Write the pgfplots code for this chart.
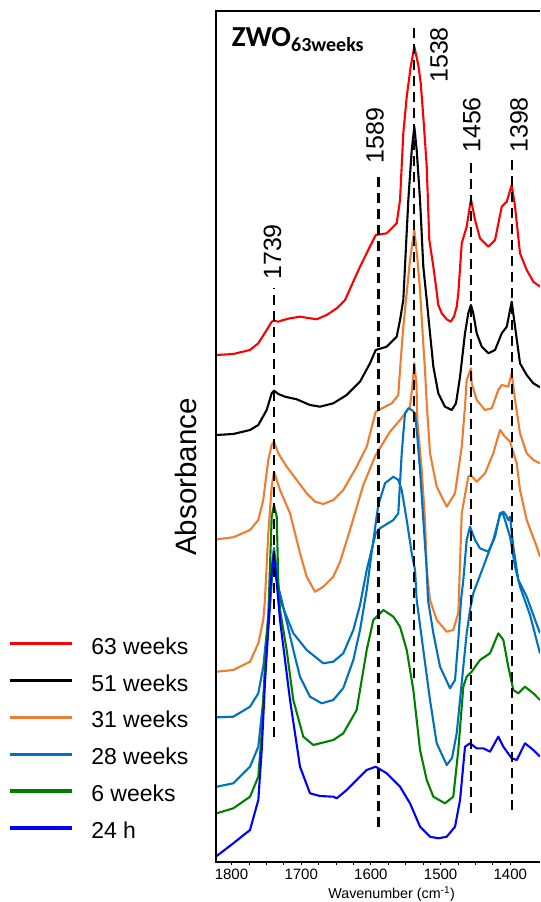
\documentclass[border=0pt]{standalone}
\usepackage{fontspec}
\setmainfont{Liberation Sans}
\newfontfamily\calibri{Carlito}
\usepackage{pgfplots}
\pgfplotsset{compat=1.18}
\definecolor{cRed}{RGB}{255,0,0}
\definecolor{cOrange}{RGB}{237,125,49}
\definecolor{cLBlue}{RGB}{0,112,192}
\definecolor{cGreen}{RGB}{0,128,0}
\definecolor{cBlue}{RGB}{0,0,255}
\begin{document}
\begin{tikzpicture}
\begin{axis}[
  scale only axis, width=324pt, height=851pt,
  xmin=1357.4, xmax=1822.2, x dir=reverse,
  ymin=0, ymax=851,
  axis line style={draw=none},
  ytick=\empty,
  xtick={1400,1500,1600,1700,1800},
  minor x tick num=3,
  xtick pos=left,
  tick align=outside, major tick length=3pt, minor tick length=3pt,
  tick style={black, line width=0.8pt},
  xticklabel style={font=\fontsize{15}{15}\selectfont},
  /pgf/number format/assume math mode=true,
  /pgf/number format/1000 sep={},
  xlabel={Wavenumber (cm\textsuperscript{-1})},
  xlabel style={at={(axis description cs:0.542,-0.0427)}, anchor=base, font=\fontsize{14.3}{14.3}\selectfont},
  ylabel={Absorbance},
  ylabel style={at={(axis description cs:-0.0596,0.4524)}, anchor=base, font=\fontsize{29.5}{30}\selectfont},
  clip mode=individual,
  spec/.style={line width=2.1pt, line join=round, mark=none},
  vline/.style={black, line width=2.2pt, dash pattern=on 10pt off 6pt, forget plot},
  legend cell align=left,
  legend image code/.code={\draw[#1, line width=3.3pt] (0pt,3pt) -- (62pt,3pt);},
  legend style={at={(axis description cs:-0.642,0.2638)}, anchor=north west, draw=none, fill=none,
    inner sep=0pt, outer sep=0pt, font=\fontsize{23}{23}\selectfont, row sep=18.7pt, column sep=18pt,
    nodes={inner sep=0pt}},
]
% 63 weeks
\addplot[spec, cRed] coordinates {(1821.2,507) (1797.4,508) (1773.4,512) (1761.5,518.7) (1749.5,532) (1742.3,540.3) (1739,541.3) (1732.8,540.3) (1725.7,542) (1716,543.7) (1701.7,545.3) (1677.7,542.7) (1663.4,547) (1649,553.7) (1637.1,562) (1615.6,595.3) (1593.1,627) (1577.3,628.7) (1563,638.7) (1558.2,662) (1553.5,728.7) (1548.6,765.3) (1542.9,795.3) (1537.7,815.3) (1532,797) (1528.5,778.7) (1524.8,745.3) (1519.9,695.3) (1516.2,622) (1510.4,595.3) (1506.6,575.3) (1503.3,557) (1498.4,548.7) (1491.2,542.7) (1485.5,540.3) (1480.8,545.3) (1476.9,555.3) (1474.6,568.7) (1469.7,618.7) (1462.6,635.3) (1456.5,663) (1450.6,642) (1443.5,623.7) (1431.5,615.3) (1421.9,622) (1412.3,655.3) (1405.1,660.3) (1398,677) (1393.2,655.3) (1386.1,608.7) (1376.5,592) (1367,580.3) (1357.4,575.3)};
\addlegendentry{63 weeks}
% 51 weeks
\addplot[spec, black] coordinates {(1821.2,427) (1797.4,428) (1773.4,432) (1761.5,437) (1749.5,452) (1742.3,468.7) (1739,471.3) (1732.8,468) (1723.2,465.3) (1706.4,462.7) (1687.4,457) (1673,455.3) (1653.9,458.7) (1634.7,467) (1615.6,480.3) (1601.3,498.7) (1593.1,512) (1577.3,515.3) (1563,525.3) (1558.2,542) (1553.5,562) (1551.1,595.3) (1546.3,662) (1541.4,712) (1537.7,735.3) (1534.3,712) (1529.5,662) (1524.8,595.3) (1519.9,562) (1515.2,528.7) (1510.4,495.3) (1503.3,468.7) (1493.7,455.3) (1484,452) (1477.9,458.7) (1472.1,485.3) (1465,528.7) (1460.3,548.7) (1456.5,557) (1453.1,548.7) (1448.2,528.7) (1441,515.3) (1431.5,508.7) (1421.9,512) (1412.3,528.7) (1405.1,535.3) (1398,560.3) (1393.2,535.3) (1386.1,498.7) (1376.5,487) (1367,478.7) (1357.4,474.7)};
\addlegendentry{51 weeks}
% 31 weeks (upper)
\addplot[spec, cOrange] coordinates {(1821.2,322.7) (1797.4,324.7) (1773.4,332) (1761.5,342) (1754.4,362) (1747.2,402) (1742.3,417) (1739,420.3) (1732.8,408.7) (1720.8,395.3) (1706.4,382) (1692.1,368.7) (1680.2,360.3) (1668.3,358) (1653.9,362) (1639.6,372) (1620.4,395.3) (1606,415.3) (1593.1,450.3) (1570.1,458.7) (1560.7,467) (1558.2,492) (1553.9,532) (1548.2,572) (1543.9,602) (1537.7,632) (1533.8,607) (1529.5,572) (1525.2,522) (1522.4,492) (1519.9,458.7) (1515.2,408.7) (1505.6,375.3) (1496.1,362) (1491.2,355.3) (1479.3,368.7) (1469.7,415.3) (1465,455.3) (1462.6,482) (1456.5,493.7) (1455.4,478.7) (1448.2,462) (1436.3,452) (1426.7,453.7) (1417.2,472) (1412.3,477) (1402.9,475.3) (1398,489) (1393.2,462) (1386.1,428.7) (1376.5,408.7) (1367,402) (1357.4,398.7)};
\addlegendentry{31 weeks}
% 31 weeks (lower)
\addplot[spec, cOrange, forget plot] coordinates {(1821.2,190.3) (1797.4,192) (1773.4,200.3) (1761.5,218.7) (1754.4,242) (1752,262) (1747.2,328.7) (1742.3,375.3) (1739,390.3) (1730.4,372) (1716,348.7) (1701.7,308.7) (1692.1,285.3) (1680.2,270.3) (1668.3,275.3) (1653.9,285.3) (1644.3,300) (1630,332) (1610.9,377) (1593.1,407) (1572.6,430.3) (1558.2,442) (1543.9,455.3) (1540.3,477) (1537.7,499) (1534.6,477) (1533.4,442) (1527.1,392) (1522.4,342) (1519.9,292) (1515.2,262) (1505.6,242) (1491.2,230.3) (1481.8,232) (1474.6,249) (1469.7,348.7) (1460.3,385.3) (1456.8,387) (1448.2,380.3) (1436.3,388.7) (1424.4,408.7) (1414.8,432) (1407.6,425.3) (1400.4,420.3) (1390.8,398.7) (1386.1,372) (1376.5,342) (1362.1,315.3) (1357.4,305.3)};
% 28 weeks (upper)
\addplot[spec, cLBlue] coordinates {(1821.2,144.7) (1797.4,145.3) (1773.4,155.3) (1761.5,168.7) (1754.4,195.3) (1749.5,228.7) (1744.7,262) (1741.9,297) (1739,314) (1736.1,297) (1730.4,262) (1711.3,228.7) (1692.1,212) (1668.3,198.7) (1653.9,200.3) (1639.6,208.7) (1625.2,232) (1615.6,257) (1606,292) (1593.1,328.7) (1586.9,333.7) (1567.8,342) (1560.7,348.7) (1555.8,408.7) (1551.1,448.7) (1546.3,453.7) (1541.4,452) (1536.7,448.7) (1533.4,425.3) (1529.5,392) (1524.8,342) (1519.9,292) (1518.1,262) (1510.4,228.7) (1500.8,195.3) (1486.5,173.7) (1479.3,182) (1474.6,222) (1470.7,262) (1467.4,282) (1462.6,322) (1457.8,335.3) (1450.6,322) (1443.5,313.7) (1431.5,310.3) (1421.9,325.3) (1414.8,348.7) (1410,350.3) (1406.2,347) (1402.9,342) (1400.4,345.3) (1395.7,315.3) (1388.5,282) (1376.5,265.3) (1367,247) (1357.4,228.7)};
\addlegendentry{28 weeks}
% 28 weeks (lower)
\addplot[spec, cLBlue, forget plot] coordinates {(1821.2,75.3) (1797.4,78.7) (1773.4,95.3) (1761.5,115.3) (1754.4,162) (1749.5,212) (1744.7,255.3) (1741.9,284) (1739,302) (1736.1,284) (1728,262) (1711.3,212) (1701.7,185.3) (1687.4,165.3) (1670.6,158.7) (1653.9,162) (1639.6,174) (1625.2,202) (1615.6,232) (1606,272) (1598.4,312) (1589.4,357) (1579.7,378.7) (1567.8,385.3) (1560.7,382) (1555.8,372) (1548.6,342) (1541.4,308.7) (1536.7,292) (1534.3,262) (1524.8,212) (1515.2,162) (1505.6,118.7) (1491.2,97) (1483.6,104) (1476.9,128.7) (1467.4,195.3) (1462.6,228.7) (1457.8,252) (1453.1,268.7) (1438.7,295.3) (1424.4,322) (1414.8,347) (1410.9,348.7) (1407.6,342) (1400.4,325.3) (1393.2,295.3) (1386.1,275.3) (1371.7,247) (1357.4,208.7)};
% 6 weeks
\addplot[spec, cGreen] coordinates {(1821.2,48.7) (1797.4,53.7) (1773.4,65.3) (1761.5,85.3) (1756.6,128.7) (1752,195.3) (1747.2,245.3) (1742.3,345.3) (1739,357) (1735.1,345.3) (1732.8,278.7) (1730.4,252) (1720.8,212) (1711.3,162) (1697,125.3) (1682.6,117) (1653.9,122) (1639.6,128.7) (1620.4,152) (1606,212) (1596.5,242) (1582.2,252) (1567.8,245.3) (1558.2,235.3) (1548.6,212) (1539.1,172) (1529.5,112) (1519.9,82) (1510.4,65.3) (1493.7,58.7) (1481.8,65.3) (1474.6,112) (1467.4,175.3) (1462.6,185.3) (1455.4,190.3) (1443.5,202) (1429.1,208.7) (1417.2,228.7) (1410,222) (1402.9,195.3) (1395.7,172) (1388.5,168.7) (1378.9,175.3) (1367,168.7) (1357.4,162)};
\addlegendentry{6 weeks}
% 24 h
\addplot[spec, cBlue] coordinates {(1821.2,6) (1797.4,18.7) (1773.4,32) (1761.5,62) (1756.6,112) (1752,178.7) (1747.2,235.3) (1743.3,282) (1739,309) (1735.4,282) (1730.4,242) (1716,162) (1701.7,95.3) (1687.4,68.7) (1673,66) (1653.9,65.3) (1649,63.7) (1634.7,72) (1620.4,82) (1606,92) (1593.1,95.3) (1577.3,88.7) (1558.2,75.3) (1543.9,58.7) (1529.5,35.3) (1515.2,25.3) (1503.3,23.7) (1491.2,25.3) (1479.3,35.3) (1472.1,62) (1465,115.3) (1457.8,118.7) (1448.2,113.7) (1438.7,113.7) (1429.1,110.3) (1417.2,125.3) (1410,115.3) (1398,103.7) (1390.8,102) (1378.9,118.7) (1367,112) (1357.4,105.3)};
\addlegendentry{24 h}
% reference lines
\addplot[vline] coordinates {(1739,125.3) (1739,574)};
\addplot[vline] coordinates {(1589,35.3) (1589,685.3)};
\addplot[vline] coordinates {(1538,184) (1538,834)};
\addplot[vline] coordinates {(1456,49) (1456,699)};
\addplot[vline] coordinates {(1398,52) (1398,702)};
\begin{scope}[every node/.style={rotate=90, anchor=west, inner sep=0pt, font=\fontsize{25}{25}\selectfont}]
\node at (axis cs:1741,582) {1739};
\node at (axis cs:1594,698.7) {1589};
\node at (axis cs:1502.3,779) {1538};
\node at (axis cs:1455.4,709) {1456};
\node at (axis cs:1387.5,709) {1398};
\end{scope}
\node[anchor=base west, inner sep=0pt] at (axis cs:1799.7,815.3)
  {\calibri\bfseries\fontsize{29}{30}\selectfont ZWO\raisebox{-5pt}{\fontsize{20}{20}\selectfont 63weeks}};
\draw[black, line width=1.3pt] (axis description cs:1,1) -- (axis description cs:0,1) -- (axis description cs:0,0) -- (axis description cs:1,0);
\coordinate (bbBL) at (axis description cs:-0.66667,-0.0470);
\coordinate (bbTR) at (axis description cs:1,1.012926);
\end{axis}
\pgfresetboundingbox
\path[use as bounding box] (bbBL) rectangle (bbTR);
\end{tikzpicture}
\end{document}
